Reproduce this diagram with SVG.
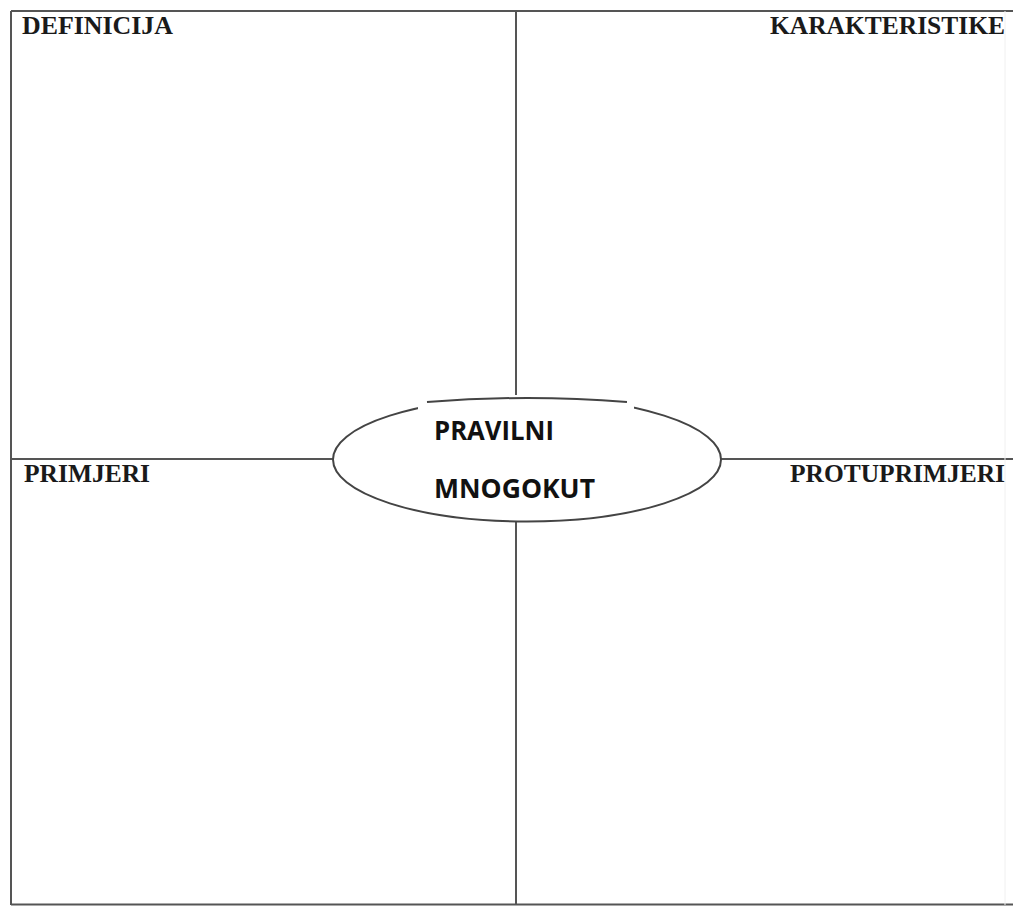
<svg xmlns="http://www.w3.org/2000/svg" width="1013" height="906" viewBox="0 0 1013 906">
<style>
.ln{stroke:#555;stroke-width:2;fill:none}
.hd{font-family:"Liberation Serif",serif;font-weight:bold;font-size:25px;fill:#1a1a1a}
.ct{font-family:"Open Sans","Noto Sans",sans-serif;font-weight:bold;font-size:26px;fill:#111}
</style>
<rect width="1013" height="906" fill="#fff"/>
<g id="connectors">
<path class="ln" d="M11 11 H1013 M11 11 V905 M11 904.5 H1013" />
<path class="ln" d="M516 11 V397 M516 522 V905 M11 459 H333 M721 459 H1013"/>
<line x1="1005" y1="11" x2="1005" y2="905" stroke="#f0f0f0" stroke-width="1"/>
</g>
<g id="center">
<ellipse cx="527" cy="459.5" rx="194" ry="62" fill="#fff" stroke="#444" stroke-width="2"/>
<rect x="418" y="395" width="216" height="16" fill="#fff"/>
<path d="M427 402 Q527 394 627 402" stroke="#444" stroke-width="2" fill="none"/>
<text class="ct" x="434" y="440" textLength="120" lengthAdjust="spacingAndGlyphs">PRAVILNI</text>
<text class="ct" x="434" y="498" textLength="161" lengthAdjust="spacingAndGlyphs">MNOGOKUT</text>
</g>
<g id="definicija"><text class="hd" x="22" y="34" textLength="151" lengthAdjust="spacingAndGlyphs">DEFINICIJA</text></g>
<g id="karakteristike"><text class="hd" x="770" y="34" textLength="235" lengthAdjust="spacingAndGlyphs">KARAKTERISTIKE</text></g>
<g id="primjeri"><text class="hd" x="24" y="482" textLength="126" lengthAdjust="spacingAndGlyphs">PRIMJERI</text></g>
<g id="protuprimjeri"><text class="hd" x="790" y="482" textLength="215" lengthAdjust="spacingAndGlyphs">PROTUPRIMJERI</text></g>
</svg>
